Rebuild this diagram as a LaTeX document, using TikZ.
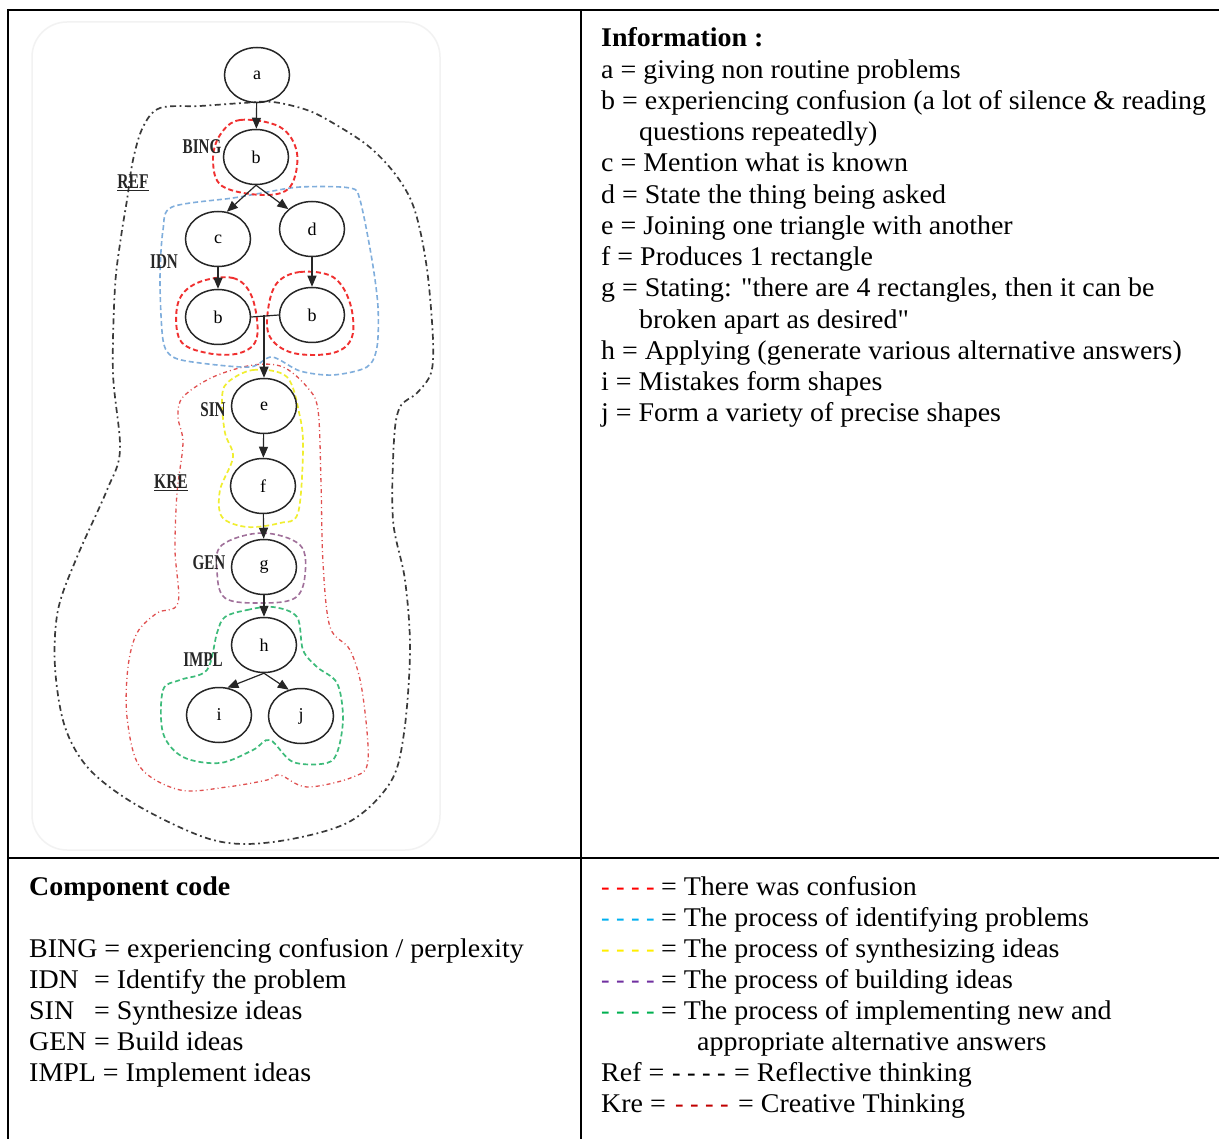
\documentclass[tikz,border=0pt]{standalone}
\usepackage{fontspec}
\usepackage{graphicx}
\setmainfont{Liberation Serif}[FakeStretch=1.035, Ligatures=TeXOff]
\newfontfamily\diagfont{Liberation Serif}
\usetikzlibrary{shapes.geometric,arrows.meta}
\definecolor{refgray}{HTML}{3A3A3A}
\definecolor{krered}{HTML}{E05050}
\definecolor{bingred}{HTML}{F03030}
\definecolor{idnblue}{HTML}{80AEDC}
\definecolor{sinyellow}{HTML}{F0EE30}
\definecolor{genpurple}{HTML}{A0709A}
\definecolor{implgreen}{HTML}{3DBB7A}
\definecolor{lgred}{HTML}{FF0000}
\definecolor{lgblue}{HTML}{00B0F0}
\definecolor{lgyellow}{HTML}{FFEE00}
\definecolor{lgpurple}{HTML}{7030A0}
\definecolor{lggreen}{HTML}{00B050}
\definecolor{lgkre}{HTML}{C00000}
\newcommand{\legdash}{\scalebox{0.92}[1]{- - - -}}
\begin{document}
\begin{tikzpicture}[x=1pt,y=-1pt,
  ell/.style={ellipse, draw=black!85, line width=1.5pt, minimum width=65pt, minimum height=55pt, inner sep=0pt, font=\diagfont\fontsize{18}{20}\selectfont},
  arr/.style={-{Triangle[length=11pt,width=9pt]}, line width=1.2pt, draw=black!85},
  plain/.style={line width=1.2pt, draw=black!85},
  lbl/.style={inner sep=0pt, font=\diagfont\bfseries\fontsize{21}{22}\selectfont, text=black!85},
  txt/.style={anchor=base west, inner sep=0pt, font=\fontsize{27}{31}\selectfont},
  refline/.style={draw=refgray, line width=1.7pt, dash pattern=on 6pt off 3.5pt on 1.8pt off 3.5pt},
  kreline/.style={draw=krered, line width=1.3pt, dash pattern=on 4pt off 3pt on 1pt off 3pt},
  bingline/.style={draw=bingred, line width=1.9pt, dash pattern=on 5pt off 3pt},
  idnline/.style={draw=idnblue, line width=1.6pt, dash pattern=on 5pt off 3pt},
  sinline/.style={draw=sinyellow, line width=1.7pt, dash pattern=on 5pt off 3pt},
  genline/.style={draw=genpurple, line width=1.6pt, dash pattern=on 5pt off 3pt},
  implline/.style={draw=implgreen, line width=1.7pt, dash pattern=on 5pt off 3pt},
  frame/.style={draw=black, line width=2pt}
]
\useasboundingbox (0,0) rectangle (1219,1139);
\fill[white] (0,0) rectangle (1219,1139);

% faint image frame
\draw[black!5, line width=1.5pt, rounded corners=35pt] (32,22) rectangle (440,850);

% contours
\draw[refline] plot[smooth cycle, tension=0.55] coordinates {
 (160,108) (200,106) (243,103) (273,102) (307,110) (333,123) (367,145) (392,170) (410,198)
 (420,230) (428,277) (433,340) (431,373) (417,393) (400,407) (394,440) (393,520) (405,580)
 (410,650) (404,733) (390,783) (347,823) (273,842) (213,840) (140,807) (90,770) (65,727)
 (55,667) (58,610) (77,557) (107,490) (120,450) (113,373) (115,287) (121,237) (127,200)
 (133,160) (143,127)};
\draw[kreline] plot[smooth cycle, tension=0.55] coordinates {
 (183,397) (213,377) (253,365) (283,367) (307,387) (318,410) (321,483) (323,563) (330,627)
 (350,650) (362,690) (368,760) (353,777) (307,787) (280,775) (267,780) (227,787) (180,790)
 (140,767) (127,717) (128,667) (137,633) (157,613) (178,603) (175,550) (177,493) (183,443)
 (178,417)};
\draw[idnline] plot[smooth cycle, tension=0.5] coordinates {
 (172,207) (233,198) (262,193) (300,187) (350,188) (360,200) (372,260) (378,307) (377,347)
 (367,367) (333,375) (300,371) (272,357) (250,367) (200,363) (173,357) (163,340) (160,280)
 (163,230)};
\draw[bingline] plot[smooth cycle, tension=0.6] coordinates {
 (220,135) (240,120) (280,127) (297,153) (290,187) (263,195) (222,186) (213,160)};
\draw[bingline] plot[smooth cycle, tension=0.6] coordinates {
 (197,283) (233,278) (252,297) (257,337) (240,353) (207,353) (180,340) (178,303)};
\draw[bingline] plot[smooth cycle, tension=0.6] coordinates {
 (277,283) (300,272) (333,277) (350,303) (352,337) (333,353) (293,353) (270,337) (268,310)};
\draw[sinline] plot[smooth cycle, tension=0.55] coordinates {
 (227,383) (253,370) (287,377) (300,417) (303,450) (298,513) (280,523) (247,527) (222,517)
 (220,490) (233,457) (225,433) (222,400)};
\draw[genline] plot[smooth cycle, tension=0.6] coordinates {
 (222,545) (262,533) (300,545) (305,575) (295,598) (262,603) (225,598) (217,570)};
\draw[implline] plot[smooth cycle, tension=0.55] coordinates {
 (225,617) (247,610) (273,607) (297,617) (303,650) (317,667) (337,683) (343,717) (338,750)
 (327,763) (293,762) (270,740) (253,750) (220,763) (183,757) (163,733) (163,690) (180,680)
 (207,670) (217,633)};

% nodes
\node[ell] (a) at (257,75) {a};
\node[ell] (b) at (256,157) {b};
\node[ell] (c) at (218,239) {c};
\node[ell] (d) at (312,229) {d};
\node[ell] (bl) at (218,317) {b};
\node[ell] (br) at (312,315) {b};
\node[ell] (e) at (264,406) {e};
\node[ell] (f) at (263,486) {f};
\node[ell] (g) at (264,567) {g};
\node[ell] (h) at (264,645) {h};
\node[ell] (i) at (219,715) {i};
\node[ell] (j) at (301,716) {j};
\coordinate (jn) at (264,315);

% connectors
\draw[arr] (a) -- (b);
\draw[arr] (b.south) -- (c.72);
\draw[arr] (b.south) -- (d.140);
\draw[arr] (c) -- (c |- bl.north);
\draw[arr] (d) -- (d |- br.north);
\draw[plain] (bl.east) -- (br.west);
\draw[arr] (jn) -- (e);
\draw[arr] (e) -- (f);
\draw[arr] (f) -- (g);
\draw[arr] (g) -- (h);
\draw[arr] (h.south) -- (i.73);
\draw[arr] (h.south) -- (j.115);

% labels
\node[lbl] (lbing) at (202,147) {\scalebox{0.72}[1]{BING}};
\node[lbl] (lref) at (133,183) {\scalebox{0.74}[1]{\underline{REF}}};
\node[lbl] (lidn) at (164,262) {\scalebox{0.72}[1]{IDN}};
\node[lbl] (lsin) at (213,410) {\scalebox{0.72}[1]{SIN}};
\node[lbl] (lkre) at (171,483) {\scalebox{0.74}[1]{\underline{KRE}}};
\node[lbl] (lgen) at (209,563) {\scalebox{0.72}[1]{GEN}};
\node[lbl] (limpl) at (203,660) {\scalebox{0.72}[1]{IMPL}};

% table frame
\draw[frame] (8,10) -- (1219,10);
\draw[frame] (8,9) -- (8,1139);
\draw[frame] (581,10) -- (581,1139);
\draw[frame] (8,858) -- (1219,858);

% information
\node[txt] (t0) at (601,47) {\textbf{Information :}};
\node[txt] (t1) at (601,78.25) {a = giving non routine problems};
\node[txt] (t2) at (601,109.5) {b = experiencing confusion (a lot of silence \& reading};
\node[txt] (t3) at (639,140.75) {questions repeatedly)};
\node[txt] (t4) at (601,172) {c = Mention what is known};
\node[txt] (t5) at (601,203.25) {d = State the thing being asked};
\node[txt] (t6) at (601,234.5) {e = Joining one triangle with another};
\node[txt] (t7) at (601,265.75) {f = Produces 1 rectangle};
\node[txt] (t8) at (601,297) {g = Stating: "there are 4 rectangles, then it can be};
\node[txt] (t9) at (639,328.25) {broken apart as desired"};
\node[txt] (t10) at (601,359.5) {h = Applying (generate various alternative answers)};
\node[txt] (t11) at (601,390.75) {i = Mistakes form shapes};
\node[txt] (t12) at (601,422) {j = Form a variety of precise shapes};

% component code
\node[txt] (c0) at (29,895) {\textbf{Component code}};
\node[txt] (c1) at (29,957) {BING = experiencing confusion / perplexity};
\node[txt] (c2) at (29,988) {IDN};
\node[txt] (c2b) at (94,988) {= Identify the problem};
\node[txt] (c3) at (29,1019) {SIN};
\node[txt] (c3b) at (94,1019) {= Synthesize ideas};
\node[txt] (c4) at (29,1050) {GEN};
\node[txt] (c4b) at (94,1050) {= Build ideas};
\node[txt] (c5) at (29,1081) {IMPL = Implement ideas};

% legend
\node[txt, text=lgred] (k1) at (601,895) {\legdash};
\node[txt] (k1b) at (661,895) {= There was confusion};
\node[txt, text=lgblue] (k2) at (601,926) {\legdash};
\node[txt] (k2b) at (661,926) {= The process of identifying problems};
\node[txt, text=lgyellow] (k3) at (601,957) {\legdash};
\node[txt] (k3b) at (661,957) {= The process of synthesizing ideas};
\node[txt, text=lgpurple] (k4) at (601,988) {\legdash};
\node[txt] (k4b) at (661,988) {= The process of building ideas};
\node[txt, text=lggreen] (k5) at (601,1019) {\legdash};
\node[txt] (k5b) at (661,1019) {= The process of implementing new and};
\node[txt] (k5c) at (697,1050) {appropriate alternative answers};
\node[txt] (k6) at (601,1081) {Ref =};
\node[txt] (k6b) at (672,1081) {\legdash};
\node[txt] (k6c) at (734,1081) {= Reflective thinking};
\node[txt] (k7) at (601,1112) {Kre =};
\node[txt, text=lgkre] (k7b) at (675,1112) {\legdash};
\node[txt] (k7c) at (738,1112) {= Creative Thinking};
\end{tikzpicture}
\end{document}
